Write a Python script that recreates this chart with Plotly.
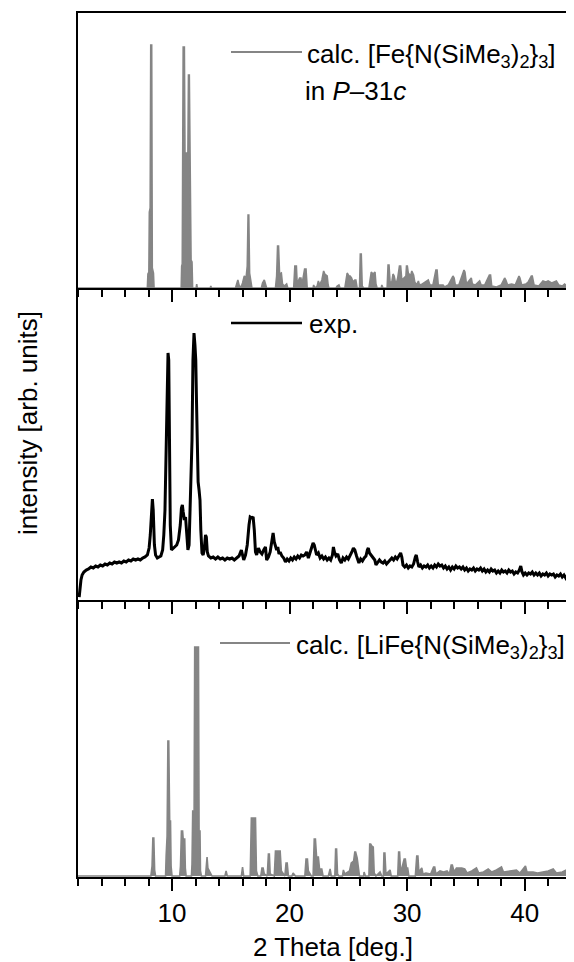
import plotly.graph_objects as go

# ---------------- data ----------------
# calculated pattern [Fe{N(SiMe3)2}3] in P-31c  (top panel)
top_2theta = [
    2.0,
    7.9, 7.95, 8.03, 8.07, 8.14, 8.19, 8.27, 8.32, 8.42, 8.47,
    10.78, 10.82, 10.87, 10.9, 10.95, 11.05, 11.1, 11.35, 11.4, 11.47, 11.52, 11.58, 11.62, 11.7, 11.75,
    12.05, 12.1, 12.15, 13.25, 13.3, 13.35,
    15.4, 15.5, 15.6, 15.7, 15.85, 16.0, 16.15, 16.3, 16.4, 16.47, 16.53, 16.6, 16.7, 16.8,
    17.6, 17.7, 17.85, 17.95, 18.05,
    18.8, 18.9, 18.98, 19.06, 19.15, 19.3, 19.4, 19.55, 19.75, 19.85,
    20.35, 20.45, 20.58, 20.65, 20.85, 20.97, 21.05, 21.28, 21.4, 21.5,
    22.0, 22.05, 22.15, 22.35, 22.45, 22.55, 22.75, 22.9, 23.0, 23.2, 23.28, 23.35,
    23.95, 24.05, 24.2, 24.3,
    24.7, 24.8, 24.9, 25.05, 25.15, 25.27, 25.4, 25.55, 25.64, 25.75,
    25.95, 26.02, 26.1, 26.18, 26.3,
    26.75, 26.85, 26.95, 27.1, 27.27, 27.35, 27.45,
    27.8, 27.85, 27.95,
    28.3, 28.38, 28.46, 28.55, 28.7, 28.8, 28.9, 29.05, 29.2, 29.35, 29.45, 29.55,
    29.7, 29.9, 29.95, 30.02, 30.1, 30.3, 30.4, 30.55, 30.65, 30.8, 30.96, 31.05,
    31.3, 31.6, 31.8, 31.95, 32.2, 32.45, 32.55, 32.65, 33.06, 33.2, 33.5, 33.9,
    34.0, 34.1, 34.4, 34.84, 34.92, 35.05, 35.46, 35.55, 35.8, 36.17, 36.3, 36.6,
    37.0, 37.1, 37.2, 37.6, 38.0, 38.3, 38.4, 38.55, 38.9, 39.2, 39.52, 39.6, 39.75, 40.1, 40.3,
    40.57, 40.65, 40.8, 41.2, 41.56, 41.8, 42.0, 42.3, 42.7, 42.9, 43.2, 43.4, 43.6, 43.97, 44.1, 44.3,
]
top_intensity = [
    0,
    0, 14, 16, 76, 80, 243, 243, 20, 15, 0,
    0, 22, 24, 108, 241, 241, 135, 135, 213, 213, 148, 148, 28, 26, 0,
    0, 4, 0, 0, 2, 0,
    0, 4, 8, 3, 0, 5, 12, 10, 22, 73, 73, 15, 6, 0,
    0, 5, 8, 3, 0,
    0, 12, 42, 42, 14, 15, 4, 2, 4, 0,
    0, 22, 22, 4, 10, 10, 3, 19, 19, 0,
    0, 3, 0, 2, 7, 3, 8, 17, 14, 12, 3, 0,
    0, 2, 3, 0,
    0, 8, 15, 12, 12, 10, 6, 8, 8, 0,
    0, 34, 34, 2, 0,
    0, 8, 16, 14, 16, 4, 0,
    0, 3, 0,
    0, 23, 23, 6, 6, 14, 12, 3, 10, 22, 22, 8,
    10, 12, 22, 22, 15, 12, 17, 13, 6, 3, 7, 3,
    4, 6, 8, 3, 3, 18, 18, 3, 3, 1, 3, 12,
    10, 3, 3, 18, 16, 4, 10, 4, 3, 7, 3, 3,
    13, 13, 2, 1, 3, 10, 8, 3, 4, 3, 12, 10, 3, 4, 6,
    12, 12, 3, 2, 7, 6, 7, 5, 7, 3, 2, 4, 2, 8, 5, 3,
]

# experimental pattern (middle panel)
exp_2theta = [
    2.1, 2.15, 2.25, 2.35, 2.5, 2.7, 2.9, 3.1, 3.3, 3.5,
    3.7, 3.9, 4.1, 4.3, 4.5, 4.7, 4.9, 5.1, 5.3, 5.5,
    5.7, 5.9, 6.1, 6.3, 6.5, 6.7, 6.9, 7.1, 7.3, 7.5,
    7.7, 7.9, 8.05, 8.15, 8.25, 8.33, 8.4, 8.5, 8.6, 8.75,
    8.9, 9.05, 9.2, 9.3, 9.4, 9.5, 9.58, 9.66, 9.72, 9.78,
    9.85, 9.95, 10.1, 10.25, 10.4, 10.55, 10.7, 10.8, 10.88, 10.95,
    11.05, 11.15, 11.25, 11.35, 11.45, 11.55, 11.62, 11.7, 11.78, 11.87,
    11.95, 12.02, 12.08, 12.15, 12.22, 12.3, 12.38, 12.45, 12.55, 12.65,
    12.75, 12.85, 12.92, 13.0, 13.1, 13.3, 13.5, 13.7, 13.9, 14.1,
    14.3, 14.5, 14.7, 14.9, 15.1, 15.3, 15.5, 15.7, 15.9, 16.0,
    16.1, 16.25, 16.4, 16.55, 16.65, 16.8, 16.9, 17.0, 17.1, 17.2,
    17.35, 17.5, 17.65, 17.8, 17.95, 18.05, 18.2, 18.35, 18.5, 18.6,
    18.7, 18.8, 18.9, 19.0, 19.1, 19.2, 19.35, 19.5, 19.65, 19.8,
    19.95, 20.1, 20.25, 20.4, 20.55, 20.7, 20.85, 21.0, 21.15, 21.3,
    21.45, 21.6, 21.75, 21.9, 22.0, 22.1, 22.2, 22.3, 22.45, 22.6,
    22.75, 22.9, 23.05, 23.2, 23.35, 23.5, 23.65, 23.73, 23.82, 23.95,
    24.1, 24.25, 24.4, 24.55, 24.7, 24.85, 25.0, 25.15, 25.3, 25.43,
    25.55, 25.7, 25.8, 25.9, 26.05, 26.2, 26.35, 26.5, 26.62, 26.7,
    26.8, 26.95, 27.1, 27.25, 27.35, 27.5, 27.65, 27.8, 27.95, 28.1,
    28.25, 28.4, 28.55, 28.7, 28.85, 29.0, 29.15, 29.3, 29.45, 29.55,
    29.65, 29.8, 29.95, 30.1, 30.25, 30.4, 30.55, 30.7, 30.78, 30.9,
    31.0, 31.15, 31.3, 31.45, 31.6, 31.75, 31.9, 32.05, 32.2, 32.35,
    32.5, 32.65, 32.8, 32.95, 33.1, 33.25, 33.4, 33.55, 33.7, 33.85,
    34.0, 34.15, 34.3, 34.45, 34.6, 34.75, 34.9, 35.05, 35.2, 35.35,
    35.5, 35.65, 35.8, 35.95, 36.1, 36.25, 36.4, 36.55, 36.7, 36.85,
    37.0, 37.15, 37.3, 37.45, 37.6, 37.75, 37.9, 38.05, 38.2, 38.35,
    38.5, 38.65, 38.8, 38.95, 39.1, 39.25, 39.4, 39.55, 39.67, 39.78,
    39.9, 40.05, 40.2, 40.35, 40.5, 40.65, 40.8, 40.95, 41.1, 41.25,
    41.4, 41.55, 41.7, 41.85, 42.0, 42.15, 42.3, 42.45, 42.6, 42.75,
    42.9, 43.05, 43.2, 43.35, 43.5, 43.65, 43.8, 43.95, 44.1, 44.25,
]
exp_intensity = [
    3, 12, 20, 25, 28, 30, 31, 33, 32, 34,
    33, 35, 34, 36, 35, 37, 36, 38, 37, 38,
    37, 39, 38, 40, 39, 41, 40, 41, 40, 42,
    43, 45, 52, 65, 95, 101, 90, 55, 45, 42,
    43, 44, 50, 65, 90, 140, 200, 247, 240, 150,
    75, 50, 52, 53, 55, 60, 75, 92, 95, 88,
    80, 83, 65, 50, 55, 90, 123, 160, 240, 267,
    255, 240, 200, 140, 118, 110, 100, 70, 47, 45,
    52, 65, 63, 48, 44, 42, 43, 41, 43, 41,
    42, 40, 42, 41, 42, 40, 42, 44, 50, 46,
    40, 45, 55, 75, 83, 82, 83, 70, 48, 45,
    52, 48, 46, 50, 53, 40, 43, 48, 60, 67,
    58, 55, 50, 53, 46, 48, 44, 42, 38, 41,
    39, 42, 40, 43, 41, 44, 42, 45, 44, 45,
    48, 42, 48, 54, 57, 55, 50, 45, 47, 42,
    44, 41, 43, 40, 42, 40, 45, 53, 48, 44,
    46, 40, 37, 42, 40, 43, 41, 44, 48, 52,
    50, 44, 40, 37, 41, 39, 42, 44, 50, 52,
    47, 45, 43, 40, 35, 37, 40, 38, 37, 39,
    36, 38, 40, 42, 40, 43, 41, 44, 47, 43,
    35, 33, 35, 32, 34, 33, 36, 43, 45, 38,
    33, 35, 32, 34, 33, 35, 32, 34, 32, 35,
    33, 36, 34, 35, 32, 34, 31, 33, 30, 33,
    31, 34, 32, 33, 31, 33, 30, 32, 29, 31,
    30, 32, 29, 31, 30, 32, 29, 31, 28, 30,
    28, 31, 29, 30, 27, 29, 27, 30, 28, 29,
    27, 30, 28, 29, 26, 28, 27, 30, 34, 28,
    25, 27, 25, 27, 26, 28, 25, 27, 25, 27,
    24, 26, 25, 27, 24, 26, 25, 26, 23, 25,
    24, 26, 23, 25, 22, 25, 24, 26, 24, 25,
]

# calculated pattern [LiFe{N(SiMe3)2}3] (bottom panel)
bot_2theta = [
    2.0, 8.2, 8.3, 8.37, 8.45, 8.52, 8.6,
    9.45, 9.5, 9.58, 9.65, 9.72, 9.8, 9.87, 9.92, 10.0,
    10.65, 10.72, 10.8, 10.9, 10.95, 11.08, 11.13, 11.2,
    11.65, 11.7, 11.76, 11.88, 11.93, 12.25, 12.3, 12.38, 12.42, 12.5,
    12.85, 12.92, 12.98, 13.05, 13.15, 13.3, 13.4,
    14.5, 14.6, 14.7, 15.9, 16.0, 16.1,
    16.65, 16.75, 17.1, 17.18, 17.3,
    17.55, 17.65, 17.75, 17.85, 18.1, 18.2, 18.28, 18.35, 18.7, 18.8, 19.2, 19.3, 19.45, 19.6, 19.7, 19.8, 19.9,
    20.2, 20.3, 20.5, 21.3, 21.4, 21.52, 21.6, 21.7, 21.85,
    22.0, 22.1, 22.2, 22.3, 22.45, 22.55, 22.74, 22.85,
    23.3, 23.45, 23.55, 23.85, 23.92, 24.0, 24.08, 24.2,
    24.5, 24.58, 24.7, 25.1, 25.25, 25.45, 25.55, 25.62, 25.75, 25.85, 25.95,
    26.3, 26.34, 26.45, 26.75, 26.82, 26.9, 27.05, 27.12, 27.2, 27.35,
    27.7, 27.85, 27.98, 28.03, 28.11, 28.2, 28.55, 28.65,
    29.2, 29.28, 29.36, 29.45, 29.75, 29.85, 29.95, 30.05, 30.15,
    30.7, 30.82, 30.92, 31.0, 31.25, 31.35, 31.6, 32.0, 32.25, 32.35,
    32.45, 32.8, 33.1, 33.4, 33.6, 33.75, 33.85, 34.0, 34.2, 34.4,
    34.65, 34.9, 35.1, 35.5, 35.9, 36.1, 36.5, 36.9, 37.2, 37.6,
    38.03, 38.2, 38.7, 39.3, 39.6, 40.07, 40.2, 40.72, 41.1, 41.6,
    42.0, 42.43, 42.7, 43.2, 43.56, 43.9, 44.3,
]
bot_intensity = [
    0, 0, 10, 38, 38, 6, 0,
    0, 20, 40, 135, 135, 55, 55, 10, 0,
    0, 10, 45, 45, 37, 37, 8, 0,
    0, 12, 65, 65, 229, 229, 45, 45, 5, 0,
    0, 19, 19, 8, 6, 2, 0,
    0, 5, 0, 0, 9, 0,
    0, 58, 58, 5, 0,
    0, 8, 8, 2, 0, 22, 22, 2, 0, 25, 25, 5, 3, 0, 13, 13, 0,
    0, 3, 0, 0, 17, 17, 5, 3, 0,
    0, 37, 37, 19, 19, 7, 7, 0,
    0, 7, 0, 0, 27, 27, 2, 0,
    0, 6, 2, 5, 13, 15, 24, 24, 18, 10, 0,
    0, 4, 0, 0, 32, 32, 29, 29, 3, 0,
    4, 0, 0, 23, 23, 2, 6, 0,
    0, 24, 24, 3, 17, 17, 8, 8, 0,
    0, 20, 20, 4, 8, 2, 3, 2, 9, 9,
    2, 5, 4, 5, 2, 11, 11, 4, 8, 8,
    8, 7, 3, 5, 8, 3, 4, 7, 4, 6,
    9, 4, 5, 6, 3, 10, 4, 4, 3, 4,
    5, 7, 3, 4, 6, 4, 5,
]

x_tick_values = [10, 20, 30, 40]
x_tick_labels = ["10", "20", "30", "40"]

label_top = "calc. [Fe{N(SiMe<sub>3</sub>)<sub>2</sub>}<sub>3</sub>]"
label_top2 = "in <i>P</i>–31<i>c</i>"
label_mid = "exp."
label_bot = "calc. [LiFe{N(SiMe<sub>3</sub>)<sub>2</sub>}<sub>3</sub>]"
y_title = "intensity [arb. units]"
x_title = "2 Theta [deg.]"

assert len(top_2theta) == len(top_intensity)
assert len(exp_2theta) == len(exp_intensity)
assert len(bot_2theta) == len(bot_intensity)

# ---------------- figure ----------------
GRAY = "#858585"
FONT = "Liberation Sans, Arial, Helvetica, sans-serif"
FS = 26

fig = go.Figure()
fig.add_trace(go.Scatter(x=top_2theta, y=top_intensity, mode="lines", xaxis="x3", yaxis="y3",
                         fill="tozeroy", fillcolor=GRAY,
                         line=dict(color=GRAY, width=1.6), hoverinfo="skip"))
fig.add_trace(go.Scatter(x=exp_2theta, y=exp_intensity, mode="lines", xaxis="x2", yaxis="y2",
                         line=dict(color="black", width=3), hoverinfo="skip"))
fig.add_trace(go.Scatter(x=bot_2theta, y=bot_intensity, mode="lines", xaxis="x", yaxis="y",
                         fill="tozeroy", fillcolor=GRAY,
                         line=dict(color=GRAY, width=1.6), hoverinfo="skip"))

# the page body adds an 8 px offset; geometry below is in screenshot pixels
OFF = 8
W, H = 574 - OFF, 962 - OFF
L, R, T, B = 78 - OFF, 0, 13 - OFF, 85
PW, PH = W - L - R, H - T - B
y_mid_axis, y_top_axis = 600, 288


def px_x(px):
    return (px - OFF - L) / PW


def px_y(py):
    return (H - B - (py - OFF)) / PH


xbase = dict(range=[2, 44.2], showline=True, linecolor="black", linewidth=2,
             ticks="outside", ticklen=12, tickwidth=1.6, tickcolor="black",
             tickvals=x_tick_values, showgrid=False, zeroline=False,
             minor=dict(dtick=2, tick0=0, ticks="outside", ticklen=7, tickwidth=1.6, tickcolor="black"))
ybase = dict(showline=True, linecolor="black", linewidth=2, ticks="", showticklabels=False,
             showgrid=False, zeroline=False, fixedrange=True)

fig.update_layout(
    width=W, height=H,
    margin=dict(l=L, r=R, t=T, b=B),
    plot_bgcolor="white", paper_bgcolor="white",
    showlegend=False,
    font=dict(family=FONT, color="black", size=FS),
    xaxis=dict(**xbase, anchor="y", ticktext=x_tick_labels, showticklabels=True,
               tickfont=dict(size=FS, family=FONT, color="black")),
    xaxis2=dict(**xbase, anchor="y2", matches="x", showticklabels=False),
    xaxis3=dict(**xbase, anchor="y3", matches="x", showticklabels=False, mirror=True),
    yaxis=dict(**ybase, domain=[0, px_y(y_mid_axis)], range=[-1, 276]),
    yaxis2=dict(**ybase, domain=[px_y(y_mid_axis), px_y(y_top_axis)], range=[0, 312]),
    yaxis3=dict(**ybase, domain=[px_y(y_top_axis), 1], range=[0, 275]),
)

# legend samples
shapes = [
    dict(type="line", xref="paper", yref="paper", x0=px_x(231), x1=px_x(302), y0=px_y(52), y1=px_y(52),
         line=dict(color=GRAY, width=2)),
    dict(type="line", xref="paper", yref="paper", x0=px_x(231), x1=px_x(302), y0=px_y(323), y1=px_y(323),
         line=dict(color="black", width=2.4)),
    dict(type="line", xref="paper", yref="paper", x0=px_x(220), x1=px_x(290), y0=px_y(643), y1=px_y(643),
         line=dict(color=GRAY, width=2)),
]
fig.update_layout(shapes=shapes)

ann = dict(xref="paper", yref="paper", showarrow=False, font=dict(size=FS, family=FONT, color="black"))
fig.add_annotation(**ann, text=label_top, x=px_x(305), y=px_y(55), xanchor="left", yanchor="middle")
fig.add_annotation(**ann, text=label_top2, x=px_x(303), y=px_y(91), xanchor="left", yanchor="middle")
fig.add_annotation(**ann, text=label_mid, x=px_x(307), y=px_y(324), xanchor="left", yanchor="middle")
fig.add_annotation(**ann, text=label_bot, x=px_x(294), y=px_y(646), xanchor="left", yanchor="middle")
fig.add_annotation(**ann, text=y_title, x=px_x(28), y=px_y(423), textangle=-90,
                   xanchor="center", yanchor="middle")
fig.add_annotation(**ann, text=x_title, x=px_x(333), y=px_y(947), xanchor="center", yanchor="middle")

fig.write_html("out.html")
